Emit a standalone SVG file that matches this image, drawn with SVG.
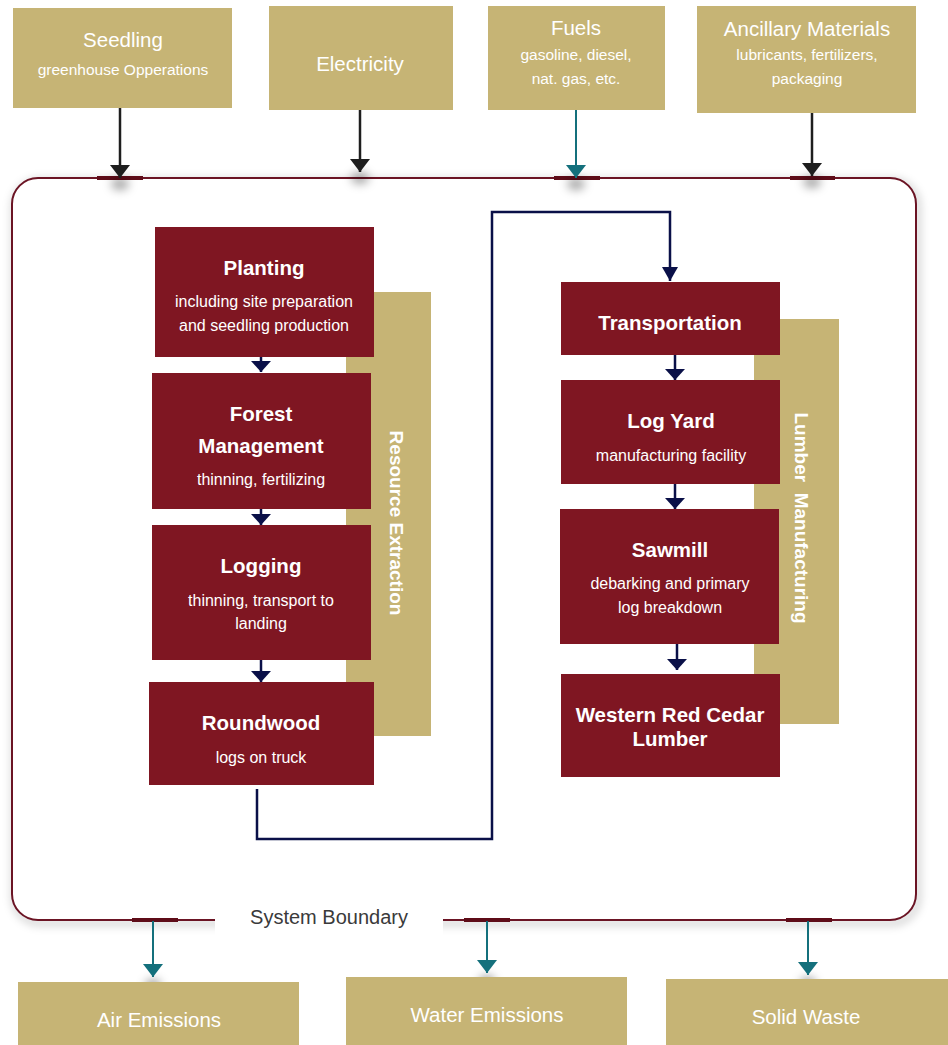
<svg xmlns="http://www.w3.org/2000/svg" width="948" height="1045" viewBox="0 0 948 1045">
<defs>
<style>
.tan{fill:#C6B475}
.red{fill:#7F1622}
.tt{font-family:"Liberation Sans",Arial,sans-serif;fill:#FFFFFF;text-anchor:middle}
.big{font-size:20.5px}
.sm{font-size:15.5px}
.hd{font-size:20.5px;font-weight:bold}
.sub{font-size:16px}
.nav{stroke:#0A1048;stroke-width:2.5;fill:none}
.blk{stroke:#1E1E1E;stroke-width:2.5;fill:none}
.teal{stroke:#14707C;stroke-width:2;fill:none}
.mark{stroke:#5E0C18;stroke-width:4}
</style>
<marker id="aNavL" viewBox="0 0 14 16" refX="14" refY="8" markerWidth="14" markerHeight="16" orient="auto" markerUnits="userSpaceOnUse">
<path d="M0,0 L14,8 L0,16 Z" fill="#0A1048"/>
</marker>
<marker id="aBlk" viewBox="0 0 13 20" refX="13" refY="10" markerWidth="13" markerHeight="20" orient="auto" markerUnits="userSpaceOnUse">
<path d="M0,0 L13,10 L0,20 Z" fill="#1E1E1E"/>
</marker>
<marker id="aTeal" viewBox="0 0 13 20" refX="13" refY="10" markerWidth="13" markerHeight="20" orient="auto" markerUnits="userSpaceOnUse">
<path d="M0,0 L13,10 L0,20 Z" fill="#14707C"/>
</marker>
<marker id="aSm" viewBox="0 0 11 20" refX="11" refY="10" markerWidth="11" markerHeight="20" orient="auto" markerUnits="userSpaceOnUse">
<path d="M0,0 L11,10 L0,20 Z" fill="#0A1048"/>
</marker>
<filter id="glow" x="-5%" y="-5%" width="110%" height="110%">
<feGaussianBlur stdDeviation="4"/>
</filter>
<filter id="blur" x="-100%" y="-100%" width="300%" height="300%">
<feGaussianBlur stdDeviation="5"/>
</filter>
</defs>
<rect width="948" height="1045" fill="#FFFFFF"/>

<!-- System boundary -->
<g id="system-boundary">
<rect x="14" y="181" width="904" height="742" rx="26" fill="none" stroke="#000" stroke-opacity="0.18" stroke-width="6" filter="url(#glow)"/>
<rect x="12" y="178" width="904" height="742" rx="26" fill="#FFFFFF" stroke="#6B1424" stroke-width="2"/>
<line class="mark" x1="97" y1="178" x2="143" y2="178"/>
<line class="mark" x1="554" y1="178" x2="600" y2="178"/>
<line class="mark" x1="790" y1="178" x2="835" y2="178"/>
<line class="mark" x1="132" y1="920" x2="178" y2="920"/>
<line class="mark" x1="464" y1="920" x2="510" y2="920"/>
<line class="mark" x1="786" y1="920" x2="832" y2="920"/>
<rect x="215" y="894" width="228" height="46" fill="#FFFFFF"/>
<text x="329" y="924" font-family="'Liberation Sans',Arial,sans-serif" font-size="20" fill="#3A3A3A" text-anchor="middle">System Boundary</text>
</g>

<!-- shadows -->
<g id="shadows" fill="#000" fill-opacity="0.35" filter="url(#blur)">
<ellipse cx="120" cy="184" rx="9" ry="6"/>
<ellipse cx="360" cy="178" rx="9" ry="6"/>
<ellipse cx="576" cy="184" rx="9" ry="6"/>
<ellipse cx="812" cy="182" rx="9" ry="6"/>
<ellipse cx="153" cy="985" rx="8" ry="6"/>
<ellipse cx="487" cy="981" rx="8" ry="6"/>
<ellipse cx="808" cy="983" rx="8" ry="6"/>
</g>

<!-- Stage bars -->
<g id="resource-extraction">
<rect class="tan" x="346" y="292" width="85" height="444"/>
<text class="tt" transform="translate(390,523) rotate(90)" font-size="19" font-weight="bold">Resource Extraction</text>
</g>
<g id="lumber-manufacturing">
<rect class="tan" x="754" y="319" width="85" height="405"/>
<text class="tt" transform="translate(795,518) rotate(90)" font-size="19" font-weight="bold" xml:space="preserve">Lumber  Manufacturing</text>
</g>

<!-- Inputs -->
<g id="seedling">
<rect class="tan" x="13" y="8" width="219" height="100"/>
<text class="tt big" x="123" y="47">Seedling</text>
<text class="tt sm" x="123" y="75">greenhouse Opperations</text>
</g>
<g id="electricity">
<rect class="tan" x="269" y="6" width="184" height="104"/>
<text class="tt big" x="360" y="71">Electricity</text>
</g>
<g id="fuels">
<rect class="tan" x="488" y="6" width="177" height="104"/>
<text class="tt big" x="576" y="35">Fuels</text>
<text class="tt sm" x="576" y="60">gasoline, diesel,</text>
<text class="tt sm" x="576" y="84">nat. gas, etc.</text>
</g>
<g id="ancillary-materials">
<rect class="tan" x="697" y="6" width="219" height="107"/>
<text class="tt big" x="807" y="36">Ancillary Materials</text>
<text class="tt sm" x="807" y="60">lubricants, fertilizers,</text>
<text class="tt sm" x="807" y="84">packaging</text>
</g>

<!-- Outputs -->
<g id="air-emissions">
<rect class="tan" x="18" y="982" width="281" height="63"/>
<text class="tt big" x="159" y="1027">Air Emissions</text>
</g>
<g id="water-emissions">
<rect class="tan" x="346" y="977" width="281" height="68"/>
<text class="tt big" x="487" y="1022">Water Emissions</text>
</g>
<g id="solid-waste">
<rect class="tan" x="666" y="979" width="282" height="66"/>
<text class="tt big" x="806" y="1024">Solid Waste</text>
</g>

<!-- Process nodes -->
<g id="planting">
<rect class="red" x="155" y="227" width="219" height="130"/>
<text class="tt hd" x="264" y="275">Planting</text>
<text class="tt sub" x="264" y="307">including site preparation</text>
<text class="tt sub" x="264" y="331">and seedling production</text>
</g>
<g id="forest-management">
<rect class="red" x="152" y="373" width="219" height="136"/>
<text class="tt hd" x="261" y="421">Forest</text>
<text class="tt hd" x="261" y="453">Management</text>
<text class="tt sub" x="261" y="485">thinning, fertilizing</text>
</g>
<g id="logging">
<rect class="red" x="152" y="525" width="219" height="135"/>
<text class="tt hd" x="261" y="573">Logging</text>
<text class="tt sub" x="261" y="606">thinning, transport to</text>
<text class="tt sub" x="261" y="629">landing</text>
</g>
<g id="roundwood">
<rect class="red" x="149" y="682" width="225" height="103"/>
<text class="tt hd" x="261" y="730">Roundwood</text>
<text class="tt sub" x="261" y="763">logs on truck</text>
</g>
<g id="transportation">
<rect class="red" x="561" y="282" width="219" height="73"/>
<text class="tt hd" x="670" y="330">Transportation</text>
</g>
<g id="log-yard">
<rect class="red" x="561" y="380" width="219" height="104"/>
<text class="tt hd" x="671" y="428">Log Yard</text>
<text class="tt sub" x="671" y="461">manufacturing facility</text>
</g>
<g id="sawmill">
<rect class="red" x="560" y="509" width="219" height="135"/>
<text class="tt hd" x="670" y="557">Sawmill</text>
<text class="tt sub" x="670" y="589">debarking and primary</text>
<text class="tt sub" x="670" y="613">log breakdown</text>
</g>
<g id="western-red-cedar-lumber">
<rect class="red" x="561" y="674" width="219" height="103"/>
<text class="tt hd" x="670" y="722">Western Red Cedar</text>
<text class="tt hd" x="670" y="746">Lumber</text>
</g>

<!-- Connectors -->
<g id="connectors">
<line class="blk" x1="120" y1="108" x2="120" y2="178" marker-end="url(#aBlk)"/>
<line class="blk" x1="360" y1="110" x2="360" y2="172" marker-end="url(#aBlk)"/>
<line class="teal" x1="576" y1="110" x2="576" y2="178" marker-end="url(#aTeal)"/>
<line class="blk" x1="812" y1="113" x2="812" y2="176" marker-end="url(#aBlk)"/>
<line class="teal" x1="153" y1="921" x2="153" y2="977" marker-end="url(#aTeal)"/>
<line class="teal" x1="487" y1="921" x2="487" y2="973" marker-end="url(#aTeal)"/>
<line class="teal" x1="808" y1="921" x2="808" y2="975" marker-end="url(#aTeal)"/>
<line class="nav" x1="261" y1="357" x2="261" y2="372" marker-end="url(#aSm)"/>
<line class="nav" x1="261" y1="509" x2="261" y2="525" marker-end="url(#aSm)"/>
<line class="nav" x1="261" y1="660" x2="261" y2="682" marker-end="url(#aSm)"/>
<line class="nav" x1="675" y1="355" x2="675" y2="380" marker-end="url(#aSm)"/>
<line class="nav" x1="675" y1="484" x2="675" y2="509" marker-end="url(#aSm)"/>
<line class="nav" x1="677" y1="644" x2="677" y2="670" marker-end="url(#aSm)"/>
<path class="nav" d="M257,789 V839 H492 V212 H670 V281" marker-end="url(#aNavL)"/>
</g>
</svg>
